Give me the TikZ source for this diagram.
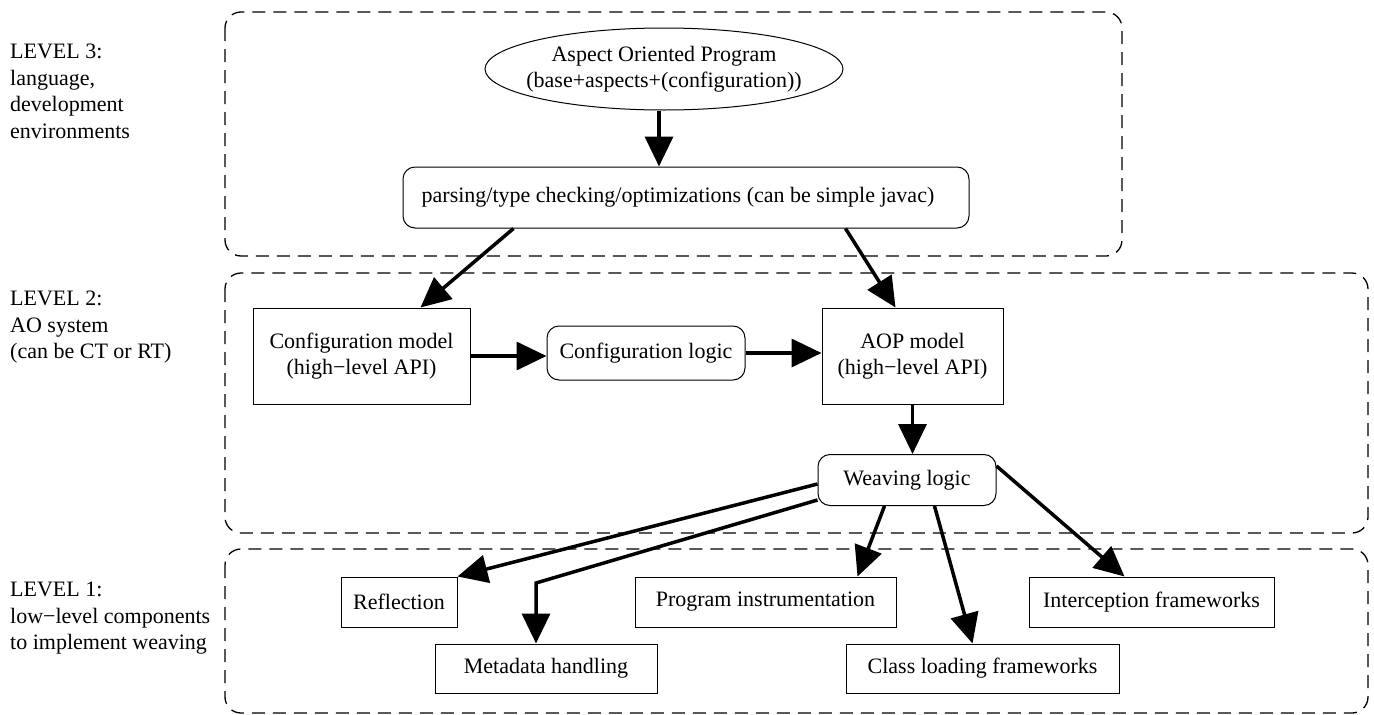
\documentclass[tikz,border=0pt]{standalone}
\usepackage{fontspec}
\setmainfont{Liberation Serif}
\usetikzlibrary{arrows.meta,shapes.geometric,calc}
\begin{document}
\begin{tikzpicture}[x=1pt,y=-1pt,
  font=\fontsize{22}{26.5}\selectfont,
  levelbox/.style={draw,dash pattern=on 13pt off 8pt,line width=1.3pt,rounded corners=16pt},
  sqbox/.style={draw,line width=1pt,inner sep=0pt,align=center},
  rbox/.style={draw,line width=1pt,rounded corners=12pt,inner sep=0pt,align=center},
  lvl/.style={anchor=north west,align=left,inner sep=0pt},
  arr/.style={line width=3.5pt,-{Triangle[length=30pt,width=28pt]}},
]
\useasboundingbox (0,0) rectangle (1374,715);
% level frames
\draw[levelbox] (225,12) rectangle (1122,256);
\draw[levelbox] (225,273) rectangle (1368,533);
\draw[levelbox] (225,549) rectangle (1368,713);
% level labels
\node[lvl] (l3) at (10,44) {LEVEL 3:\\language,\\development\\environments};
\node[lvl] (l2) at (10,291) {LEVEL 2:\\AO system\\(can be CT or RT)};
\node[lvl] (l1) at (10,582) {LEVEL 1:\\low\textminus level components\\to implement weaving};
% nodes
\node[ellipse,draw,line width=1pt,inner xsep=-30pt,inner ysep=-12pt,minimum width=358pt,minimum height=82pt,align=center] (prog) at (664,69) {Aspect Oriented Program\\(base+aspects+(configuration))};
\node[rbox,minimum width=566pt,minimum height=61pt] (parse) at (686,197.5) {\hspace*{-16pt}parsing/type checking/optimizations (can be simple javac)};
\node[sqbox,minimum width=217pt,minimum height=96pt] (cfgm) at (361.5,356) {Configuration model\\(high\textminus level API)};
\node[rbox,minimum width=198pt,minimum height=54pt] (cfgl) at (646,353) {Configuration logic};
\node[sqbox,minimum width=181pt,minimum height=96pt] (aopm) at (912.5,356) {AOP model\\(high\textminus level API)};
\node[rbox,minimum width=178pt,minimum height=51pt] (weave) at (907,480) {Weaving logic};
\node[sqbox,minimum width=116pt,minimum height=50pt] (refl) at (399,602) {Reflection};
\node[sqbox,minimum width=261pt,minimum height=50pt] (prog2) at (765.5,602) {Program instrumentation};
\node[sqbox,minimum width=245pt,minimum height=50pt] (icpt) at (1151.5,602) {Interception frameworks};
\node[sqbox,minimum width=222pt,minimum height=49pt] (meta) at (546,668.5) {Metadata handling};
\node[sqbox,minimum width=273pt,minimum height=49pt] (cls) at (982.5,668.5) {Class loading frameworks};
\coordinate (mbend) at (536,583);
% connectors
\draw[arr] ([xshift=-5pt]prog.south) -- ([xshift=-5pt]prog.south |- parse.north);
\draw[arr] ([xshift=111pt]parse.south west) -- ([xshift=168pt]cfgm.north west);
\draw[arr] ([xshift=-124pt]parse.south east) -- ([xshift=74pt]aopm.north west);
\draw[arr] (cfgm.east) -- (cfgm.east -| cfgl.west);
\draw[arr] (cfgl.east) -- (cfgl.east -| aopm.west);
\draw[arr] (aopm.south) -- (aopm.south |- weave.north);
\draw[arr] ([yshift=-4pt]weave.west) -- (refl.north east);
\draw[arr] ([yshift=6pt]weave.south west) -- (mbend) -- (mbend |- meta.north);
\draw[arr] ([xshift=67pt]weave.south west) -- ([xshift=-39pt]prog2.north east);
\draw[arr] ([xshift=117pt]weave.south west) -- ([xshift=127pt]cls.north west);
\draw[arr] ([yshift=14pt]weave.east) -- ([xshift=96pt]icpt.north west);
\end{tikzpicture}
\end{document}
